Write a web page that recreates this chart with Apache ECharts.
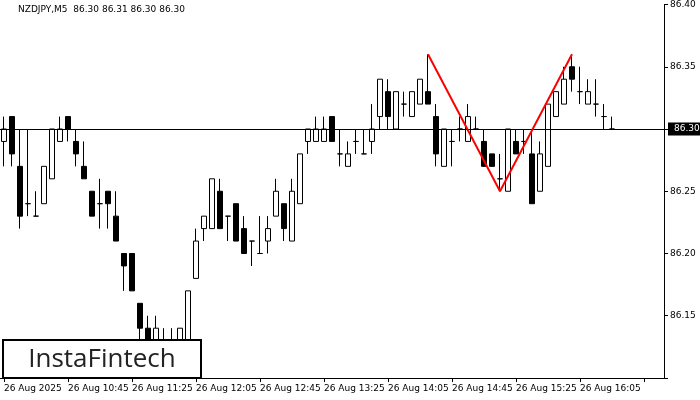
<!DOCTYPE html>
<html><head><meta charset="utf-8">
<script src="https://cdn.jsdelivr.net/npm/echarts@6/dist/echarts.min.js"></script>
<style>html,body{margin:0;padding:0;background:#fff}#c{width:700px;height:400px}</style>
</head><body><div id="c"></div>
<script>
// [open, close, low, high]
const candles = [
[86.29,86.30,86.27,86.31],[86.31,86.28,86.27,86.31],[86.27,86.23,86.22,86.30],[86.24,86.24,86.23,86.30],
[86.23,86.23,86.23,86.25],[86.24,86.27,86.24,86.27],[86.26,86.30,86.26,86.30],[86.29,86.30,86.29,86.31],
[86.31,86.30,86.29,86.31],[86.29,86.28,86.27,86.30],[86.27,86.26,86.26,86.29],[86.25,86.23,86.23,86.25],
[86.24,86.24,86.22,86.26],[86.25,86.24,86.22,86.25],[86.23,86.21,86.21,86.25],[86.20,86.19,86.17,86.20],
[86.20,86.17,86.17,86.20],[86.16,86.14,86.13,86.16],[86.14,86.13,86.12,86.15],[86.13,86.14,86.12,86.15],
[86.13,86.13,86.12,86.14],[86.13,86.13,86.12,86.14],[86.13,86.14,86.12,86.14],[86.13,86.17,86.13,86.17],
[86.18,86.21,86.18,86.22],[86.22,86.23,86.21,86.23],[86.22,86.26,86.22,86.26],[86.25,86.22,86.22,86.26],
[86.23,86.23,86.21,86.23],[86.24,86.21,86.21,86.24],[86.22,86.20,86.20,86.23],[86.21,86.21,86.19,86.21],
[86.20,86.20,86.20,86.23],[86.21,86.22,86.20,86.23],[86.23,86.25,86.23,86.26],[86.24,86.22,86.21,86.24],
[86.21,86.25,86.21,86.26],[86.24,86.28,86.24,86.28],[86.29,86.30,86.28,86.30],[86.29,86.30,86.29,86.31],
[86.29,86.30,86.29,86.31],[86.31,86.29,86.29,86.31],[86.28,86.28,86.27,86.30],[86.27,86.28,86.27,86.29],
[86.29,86.29,86.28,86.30],[86.28,86.28,86.28,86.30],[86.29,86.30,86.28,86.32],[86.31,86.34,86.30,86.34],
[86.33,86.31,86.30,86.34],[86.30,86.33,86.30,86.33],[86.32,86.32,86.31,86.33],[86.31,86.33,86.31,86.33],
[86.32,86.34,86.32,86.34],[86.33,86.32,86.32,86.36],[86.31,86.28,86.27,86.32],[86.27,86.30,86.27,86.30],
[86.29,86.29,86.27,86.30],[86.30,86.30,86.29,86.31],[86.29,86.31,86.29,86.32],[86.30,86.30,86.30,86.31],
[86.29,86.27,86.27,86.30],[86.28,86.27,86.27,86.28],[86.26,86.26,86.25,86.28],[86.25,86.30,86.25,86.30],
[86.29,86.28,86.28,86.30],[86.29,86.29,86.28,86.30],[86.28,86.24,86.24,86.30],[86.25,86.28,86.25,86.29],
[86.27,86.32,86.27,86.32],[86.31,86.33,86.31,86.33],[86.32,86.34,86.32,86.35],[86.35,86.34,86.33,86.36],
[86.33,86.33,86.32,86.35],[86.32,86.33,86.32,86.34],[86.32,86.32,86.31,86.34],[86.31,86.31,86.30,86.32],
[86.30,86.30,86.30,86.31]
];
const patternPoints = [[53,86.36],[62,86.25],[71,86.36]];
const currentPrice = 86.30;
const timeLabels = ['26 Aug 2025','26 Aug 10:45','26 Aug 11:25','26 Aug 12:05','26 Aug 12:45','26 Aug 13:25','26 Aug 14:05','26 Aug 14:45','26 Aug 15:25','26 Aug 16:05','',''];
const slots = 83;
const cats = [];
for (let i=0;i<slots;i++) cats.push(i%8===0 ? (timeLabels[i/8]||'') : '');
const cdata = cats.map((_,i)=> candles[i] ? candles[i] : '-');
const pat = cats.map(()=>null);
patternPoints.forEach(p=>pat[p[0]]=p[1]);
const chart = echarts.init(document.getElementById('c'));
chart.setOption({
  animation:false,
  grid:{left:0,right:36,top:4,bottom:22},
  graphic:[
    {type:'text',left:18,top:5,style:{text:'NZDJPY,M5  86.30 86.31 86.30 86.30',font:'9px "DejaVu Sans"',fill:'#000'}},
    {type:'rect',shape:{x:3,y:340,width:198,height:38},style:{fill:'#fff',stroke:'#000',lineWidth:2},z:100},
    {type:'text',x:102,y:360,style:{text:'InstaFintech',font:'26px "Open Sans"',fill:'#222',align:'center',verticalAlign:'middle'},z:101}
  ],
  xAxis:{type:'category',data:cats,boundaryGap:true,
    axisLine:{show:true,lineStyle:{color:'#000'}},
    axisTick:{show:true,interval:(i)=>i%8===0,alignWithLabel:true,length:4,lineStyle:{color:'#000'}},
    axisLabel:{interval:(i)=>i%8===0,align:'left',margin:6,fontSize:9,fontFamily:'DejaVu Sans',color:'#000'},
    splitLine:{show:false}},
  yAxis:{type:'value',position:'right',min:86.10,max:86.40,interval:0.05,
    axisLine:{show:true,lineStyle:{color:'#000'}},
    axisTick:{show:true,length:4,lineStyle:{color:'#000'}},
    axisLabel:{fontSize:9,fontFamily:'DejaVu Sans',color:'#000',margin:6,formatter:v=> v<86.12?'':v.toFixed(2)},
    splitLine:{show:false}},
  series:[
    {type:'candlestick',data:cdata,barWidth:6,
     itemStyle:{color:'#fff',color0:'#000',borderColor:'#000',borderColor0:'#000',borderWidth:1},
     markLine:{silent:true,symbol:'none',data:[{yAxis:currentPrice}],lineStyle:{color:'#000',width:1,type:'solid'},
       label:{show:true,position:'end',formatter:'86.30',backgroundColor:'#000',color:'#fff',fontSize:9,fontFamily:'DejaVu Sans',padding:[2,6],distance:4}}},
    {type:'line',data:pat,connectNulls:true,symbol:'none',lineStyle:{color:'#f00',width:2},z:5}
  ]
});
</script></body></html>
